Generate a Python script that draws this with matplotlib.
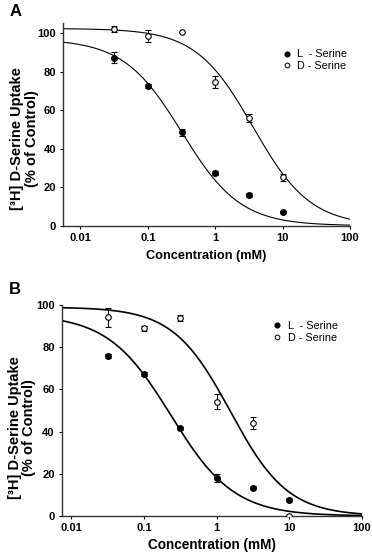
import numpy as np
import matplotlib
matplotlib.use('Agg')
import matplotlib.pyplot as plt
from matplotlib.lines import Line2D
from matplotlib.ticker import FixedLocator, NullLocator, FixedFormatter

plt.rcParams['font.family'] = ['Liberation Sans', 'DejaVu Sans']

# concentrations (mM)
conc = [0.0316, 0.1, 0.316, 1, 3.16, 10]

# panel A
a_l_mean = [87.3, 72.6, 48.5, 27.2, 15.8, 7.1]
a_l_err = [3.0, 1.0, 2.0, 1.0, 1.0, 0.5]
a_d_mean = [102.3, 98.5, 100.5, 74.8, 55.8, 25.1]
a_d_err = [1.5, 3.0, 0.0, 3.0, 2.0, 2.0]
# fitted curves: top, bottom, ic50, hill
a_l_fit = [97.0, 0.0, 0.32, 1.0]
a_d_fit = [102.5, 0.0, 3.65, 1.02]

# panel B
b_l_mean = [75.8, 67.4, 41.6, 18.0, 13.4, 7.8]
b_l_err = [1.0, 1.0, 0.7, 2.0, 0.8, 0.5]
b_d_mean = [94.1, 88.9, 93.7, 54.1, 44.1, 0.0]
b_d_err = [4.7, 1.0, 1.5, 3.6, 2.7, 0.0]
b_l_fit = [95.5, 0.0, 0.235, 1.0]
b_d_fit = [99.0, 0.0, 1.55, 1.1]

xticks = [0.01, 0.1, 1, 10, 100]
xticklabels = ['0.01', '0.1', '1', '10', '100']
yticks = [0, 20, 40, 60, 80, 100]


def logistic(x, p):
    top, bottom, ic50, h = p
    return bottom + (top - bottom) / (1 + (x / ic50) ** h)


def panel(ax, l_mean, l_err, d_mean, d_err, l_fit, d_fit, xlim, ylim, lw, legend_pos,
          lab_size, xpad, ylab_y):
    xx = np.logspace(np.log10(xlim[0]), np.log10(xlim[1]), 300)
    ax.plot(xx, logistic(xx, l_fit), color='black', lw=lw)
    ax.plot(xx, logistic(xx, d_fit), color='black', lw=lw)
    ax.errorbar(conc, l_mean, yerr=l_err, fmt='o', ms=4, mfc='black', mec='black',
                ecolor='black', elinewidth=0.8, capsize=2.2, capthick=0.8, zorder=3)
    ax.errorbar(conc, d_mean, yerr=d_err, fmt='o', ms=4, mfc='white', mec='black', mew=0.8,
                ecolor='black', elinewidth=0.8, capsize=2.2, capthick=0.8, zorder=3)
    ax.set_xscale('log')
    ax.set_xlim(xlim)
    ax.set_ylim(ylim)
    ax.xaxis.set_major_locator(FixedLocator(xticks))
    ax.xaxis.set_major_formatter(FixedFormatter(xticklabels))
    ax.xaxis.set_minor_locator(NullLocator())
    ax.set_yticks(yticks)
    for s in ['top', 'right']:
        ax.spines[s].set_visible(False)
    for s in ['left', 'bottom']:
        ax.spines[s].set_linewidth(1.0)
        ax.spines[s].set_color('#333333')
    ax.tick_params(length=2, width=0.8, pad=3, labelsize=8)
    for t in ax.get_xticklabels() + ax.get_yticklabels():
        t.set_fontweight('bold')
    ax.set_xlabel('Concentration (mM)', fontsize=lab_size, fontweight='bold', labelpad=xpad)
    ax.set_ylabel('[³H] D-Serine Uptake\n(% of Control)', fontsize=10.5, fontweight='bold',
                  linespacing=1.05)
    ax.yaxis.set_label_coords(-0.085, ylab_y)
    handles = [Line2D([], [], ls='none', marker='o', ms=3.4, mfc='black', mec='black'),
               Line2D([], [], ls='none', marker='o', ms=3.4, mfc='white', mec='black', mew=0.7)]
    ax.legend(handles, ['L  - Serine', 'D - Serine'], loc='upper left', bbox_to_anchor=legend_pos,
              frameon=False, fontsize=7.8, handlelength=0.8, handletextpad=0.6,
              labelspacing=0.15, borderpad=0)


fig = plt.figure(figsize=(3.72, 5.56), dpi=100)
ax_a = fig.add_axes([63 / 372, 1 - 225.7 / 556, (350 - 63) / 372, (225.7 - 22.7) / 556])
ax_b = fig.add_axes([61.7 / 372, 1 - 516 / 556, (362 - 61.7) / 372, (516 - 305) / 556])

panel(ax_a, a_l_mean, a_l_err, a_d_mean, a_d_err, a_l_fit, a_d_fit,
      (0.0055, 100), (0, 105.5), 0.8, (0.745, 0.895), 9.2, 5, 0.43)
panel(ax_b, b_l_mean, b_l_err, b_d_mean, b_d_err, b_l_fit, b_d_fit,
      (0.0074, 100), (0, 100), 1.2, (0.685, 0.95), 9.8, 3.5, 0.42)

fig.text(0.025, 1 - 12 / 556, 'A', fontsize=12, fontweight='bold', va='center')
fig.text(0.025, 1 - 290 / 556, 'B', fontsize=12, fontweight='bold', va='center')

fig.savefig('out.png', dpi=100)
